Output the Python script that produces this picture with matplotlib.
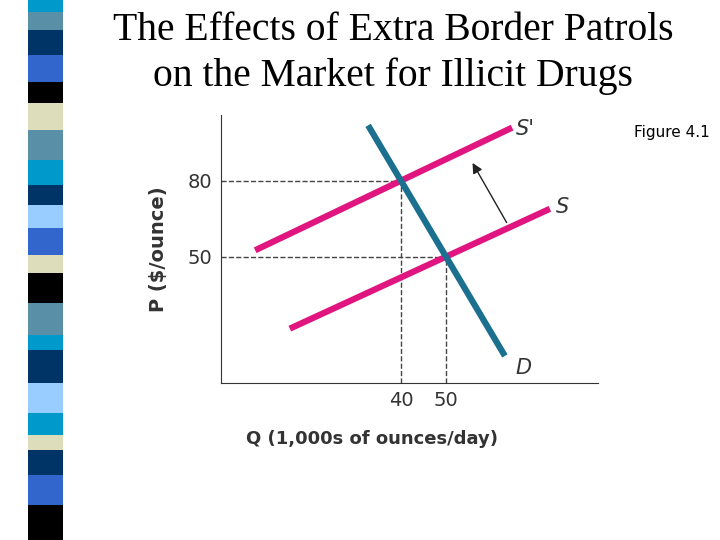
import matplotlib.pyplot as plt
from matplotlib.patches import Polygon

# stripe blocks (top y, bottom y in pixels) and colors
stripe_edges = [0, 12, 30, 55, 82, 103, 130, 160, 185, 205, 228, 255, 273, 303, 335, 350, 383, 413, 435, 450, 475, 505, 540]
stripe_colors = ['#0099cc', '#5a8fa8', '#003366', '#3366cc', '#000000', '#ddddbb', '#5a8fa8', '#0099cc',
                 '#003366', '#99ccff', '#3366cc', '#ddddbb', '#000000', '#5a8fa8', '#0099cc', '#003366',
                 '#99ccff', '#0099cc', '#ddddbb', '#003366', '#3366cc', '#000000']

demand_q = [32.7, 63.1]
demand_p = [101.9, 10.7]
supply_q = [15.3, 73.1]
supply_p = [21.5, 68.9]
supply2_q = [7.6, 64.7]
supply2_p = [52.5, 101.0]
eq_q = [40, 50]
eq_p = [80, 50]

W, H = 720, 540
fig = plt.figure(figsize=(7.2, 5.4), dpi=100)

# decorative stripe
sax = fig.add_axes([0, 0, 1, 1])
sax.set_xlim(0, W)
sax.set_ylim(H, 0)
sax.axis('off')
for i, c in enumerate(stripe_colors):
    y0, y1 = stripe_edges[i], stripe_edges[i + 1]
    sax.add_patch(Polygon([(28, y0), (63, y0), (63, y1), (28, y1)], color=c, lw=0))

fig.text(393 / W, 1 - 30 / H, 'The Effects of Extra Border Patrols', ha='center', va='center',
         family='Liberation Serif', fontsize=28.5)
fig.text(393 / W, 1 - 76 / H, 'on the Market for Illicit Drugs', ha='center', va='center',
         family='Liberation Serif', fontsize=28.5)
fig.text(672 / W, 1 - 132 / H, 'Figure 4.1', ha='center', va='center', fontsize=11)

ax = fig.add_axes([221 / W, 1 - 383 / H, (598 - 221) / W, (383 - 115) / H])
ax.set_xlim(0, 83.8)
ax.set_ylim(0, 106)
for s in ['top', 'right']:
    ax.spines[s].set_visible(False)
ax.spines['left'].set_color('#333333')
ax.spines['bottom'].set_color('#333333')

mag = '#e0157f'
ax.plot(supply_q, supply_p, color=mag, lw=4.5, solid_capstyle='butt')
ax.plot(supply2_q, supply2_p, color=mag, lw=4.5, solid_capstyle='butt')
ax.plot(demand_q, demand_p, color='#1b6f8f', lw=4.5, solid_capstyle='butt')

for q, p in zip(eq_q, eq_p):
    ax.plot([0, q], [p, p], color='#444444', ls='--', lw=1, zorder=1)
    ax.plot([q, q], [0, p], color='#444444', ls='--', lw=1, zorder=1)

ax.annotate('', xy=(55.6, 88), xytext=(63.8, 62.5),
            arrowprops=dict(arrowstyle='-|>', color='#222222', lw=1, mutation_scale=15))
ax.text(65.5, 100.5, "S'", fontsize=15, style='italic', va='center', color='#333333')
ax.text(74.5, 69.5, 'S', fontsize=15, style='italic', va='center', color='#333333')
ax.text(65.5, 6, 'D', fontsize=15, style='italic', va='center', color='#333333')

ax.set_xticks(eq_q)
ax.set_yticks(eq_p)
ax.tick_params(length=0, labelsize=14, colors='#333333', pad=6)
ax.set_xlabel('Q (1,000s of ounces/day)', fontsize=13, fontweight='bold', color='#333333')
ax.xaxis.set_label_coords(0.40, -0.175)
ax.set_ylabel('P ($/ounce)', fontsize=14, fontweight='bold', color='#333333', labelpad=14)

fig.savefig('out.png', dpi=100)
